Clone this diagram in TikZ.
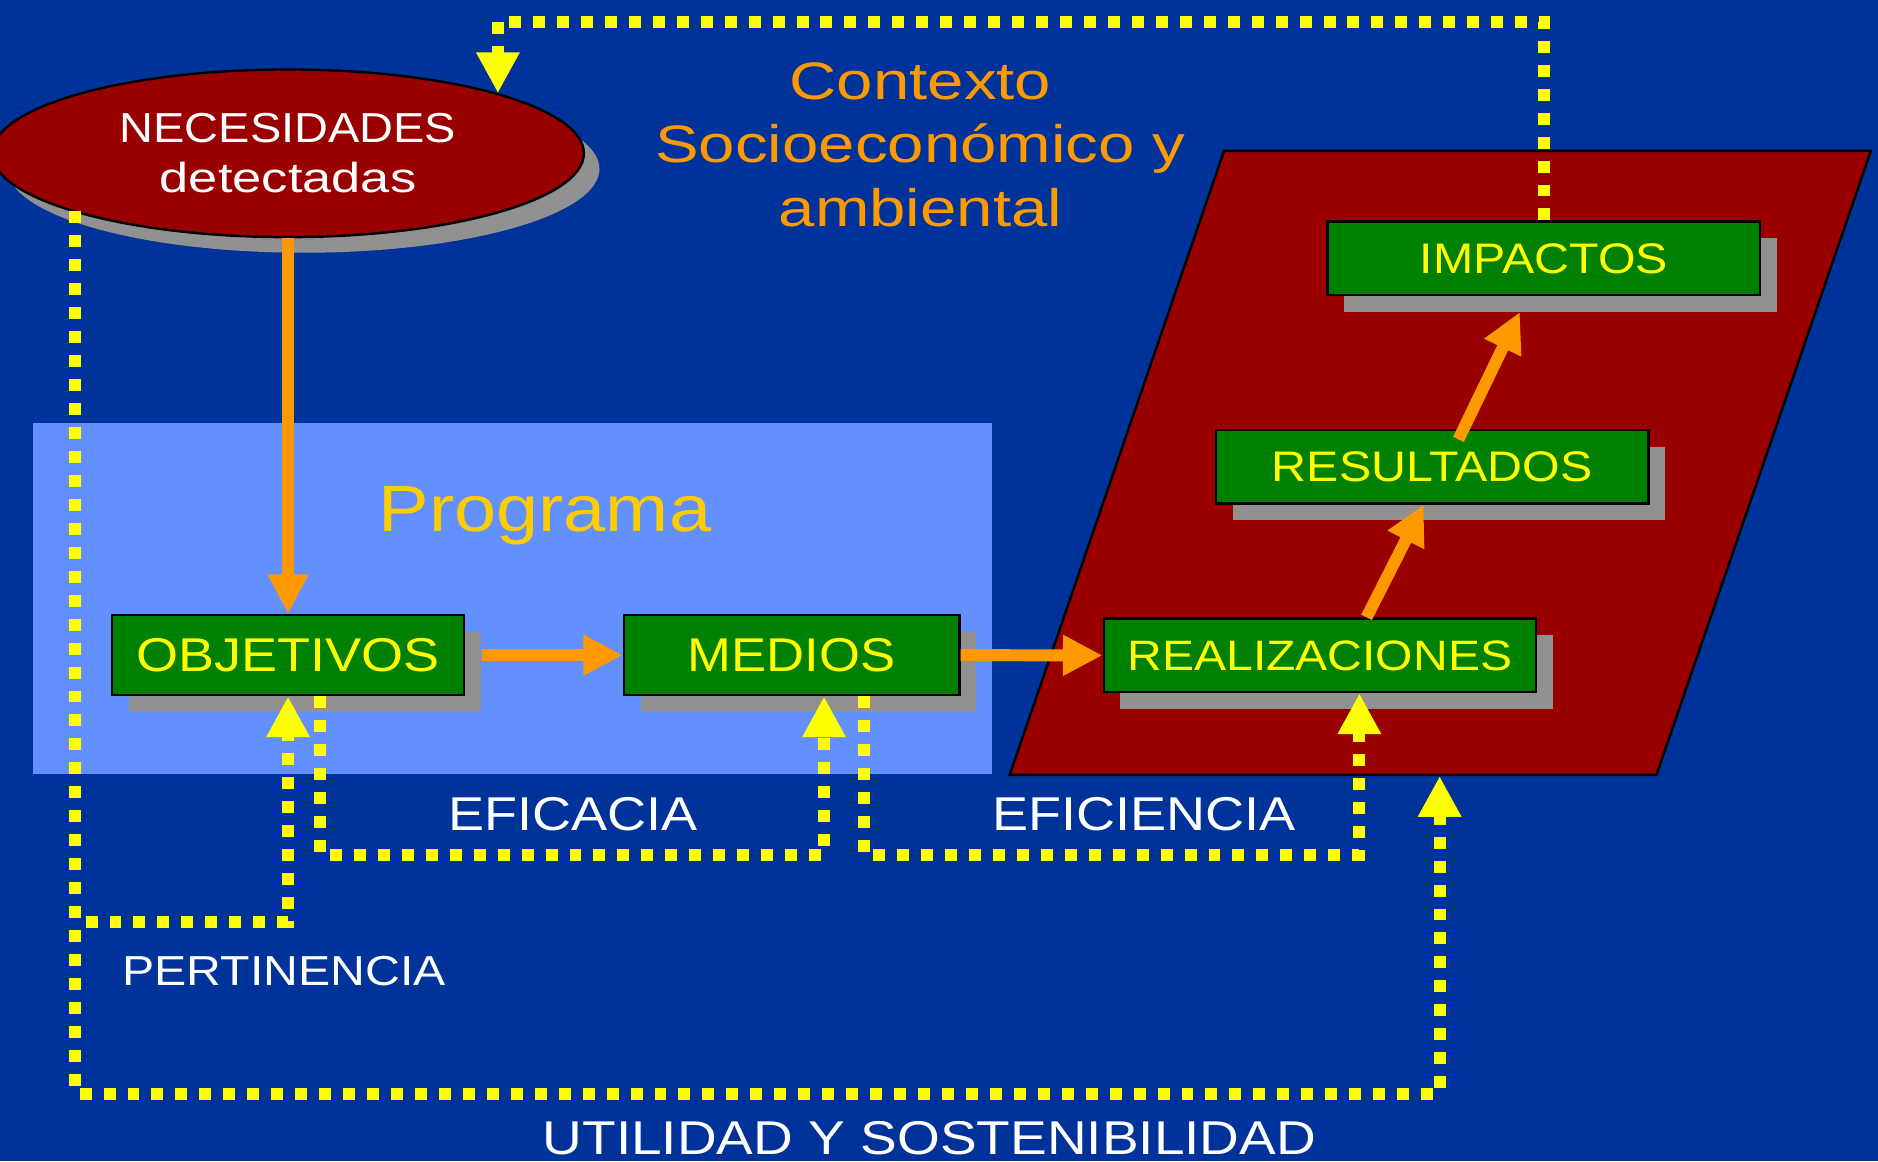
\documentclass[tikz,border=0pt]{standalone}
\usepackage{fontspec}
\setmainfont{Liberation Sans}
\usetikzlibrary{arrows.meta,shapes.geometric,shadows}
\definecolor{bgblue}{RGB}{0,51,153}
\definecolor{progblue}{RGB}{98,144,255}
\definecolor{dred}{RGB}{153,0,0}
\definecolor{boxgreen}{RGB}{0,128,0}
\definecolor{shgray}{RGB}{145,145,145}
\definecolor{ylw}{RGB}{255,255,0}
\definecolor{orng}{RGB}{255,153,0}
\definecolor{gold}{RGB}{255,204,0}
\newcommand\fsz[3]{\fontsize{#1}{#2}\selectfont\addfontfeatures{FakeStretch=#3}}
\begin{document}
\begin{tikzpicture}[x=1pt,y=-1pt,
  gbox/.style={draw=black, line width=2pt, fill=boxgreen, text=ylw, inner sep=0pt,
     general shadow={fill=shgray, shadow xshift=14pt, shadow yshift=-14pt}},
  ydot/.style={draw=ylw, line width=10pt, dash pattern=on 10pt off 10pt, -{Triangle[width=34pt,length=34pt]}},
  oarrow/.style={draw=orng, line width=10pt, -{Triangle[width=32pt,length=33pt]}},
  lbl/.style={text=white, inner sep=0pt},
  ctx/.style={text=orng, inner sep=0pt, anchor=base, font=\fsz{44}{44}{1.24}},
]
\fill[bgblue] (0,0) rectangle (1568,969.4);
\useasboundingbox (0,0) rectangle (1568,969.4);

% Programa area
\node[fill=progblue, minimum width=801pt, minimum height=293pt, inner sep=0pt, anchor=north west] (prog) at (27,353) {};
\node[text=gold, inner sep=0pt, anchor=base, font=\fsz{54.5}{54.5}{1.16}] (proglbl) at (455,444) {Programa};

% context parallelogram
\draw[fill=dred, line width=2pt] (1022,126) -- (1562,126) -- (1383,647) -- (843,647) -- cycle;
\coordinate (ctxbase) at (1202,648);

% context title
\node[ctx] (ctx1) at (768.5,82.7) {Contexto};
\node[ctx] (ctx2) at (768.5,135.5) {Socioeconómico y};
\node[ctx] (ctx3) at (768.5,188.7) {ambiental};

% needs ellipse
\node[ellipse, draw=black, line width=2pt, fill=dred, minimum width=494pt, minimum height=140pt, inner sep=0pt,
  general shadow={fill=shgray, shadow xshift=13pt, shadow yshift=-13pt},
  text=white, align=center, font=\fsz{35}{41.7}{1.12}] (nec) at (240.5,128)
  {NECESIDADES\\{\addfontfeatures{FakeStretch=1.25}detectadas}};

% boxes
\node[gbox, minimum width=294pt, minimum height=67pt, font=\fsz{39.6}{39.6}{1.14}] (obj) at (240.5,547) {OBJETIVOS};
\node[gbox, minimum width=280pt, minimum height=67pt, font=\fsz{39.6}{39.6}{1.11}] (med) at (661,547) {MEDIOS};
\node[gbox, minimum width=361pt, minimum height=61.5pt, font=\fsz{35.5}{35.5}{1.13}] (real) at (1102,547.2) {REALIZACIONES};
\node[gbox, minimum width=361pt, minimum height=61.5pt, font=\fsz{35.7}{35.7}{1.13}] (res) at (1195.7,389.6) {RESULTADOS};
\node[gbox, minimum width=361pt, minimum height=61.5pt, font=\fsz{35.7}{35.7}{1.13}] (imp) at (1289,215.8) {IMPACTOS};

% helper levels
\coordinate (topY) at (0,18);
\coordinate (botY) at (0,913);
\coordinate (pertY) at (0,770);

% orange flow arrows
\draw[oarrow] (nec.south) -- (obj.north);
\draw[oarrow] ([xshift=14pt]obj.east) -- (med.west);
\draw[oarrow] (med.east) -- (real.west);
\draw[oarrow] ([xshift=39pt]real.north) -- ([xshift=-7pt]res.south);
\draw[oarrow] ([xshift=22pt,yshift=-9pt]res.north) -- ([xshift=-20pt,yshift=-13pt]imp.south);

% yellow evaluation loops
\draw[ydot] (imp.north) |- (nec.16 |- topY) -- (nec.16);
\draw[ydot] ([xshift=3.5pt]nec.195) |- (ctxbase |- botY) -- (ctxbase);
\draw[ydot] ([xshift=12pt]nec.195 |- pertY) -| (obj.south);
\draw[ydot] ([xshift=27pt]obj.south) -- ++(0,132) -| ([xshift=27pt]med.south);
\draw[ydot] ([xshift=60pt]med.south) -- ++(0,132) -| ([xshift=33pt]real.south);

% labels
\node[lbl, anchor=base, font=\fsz{39.6}{39.6}{1.14}] (eficacia) at (478.5,693) {EFICACIA};
\node[lbl, anchor=base, font=\fsz{39.6}{39.6}{1.14}] (eficiencia) at (955,693) {EFICIENCIA};
\node[lbl, anchor=base, font=\fsz{35}{35}{1.15}] (pert) at (237.3,822.5) {PERTINENCIA};
\node[lbl, anchor=base, font=\fsz{39.6}{39.6}{1.16}] (util) at (776,963.6) {UTILIDAD Y SOSTENIBILIDAD};
\end{tikzpicture}
\end{document}
